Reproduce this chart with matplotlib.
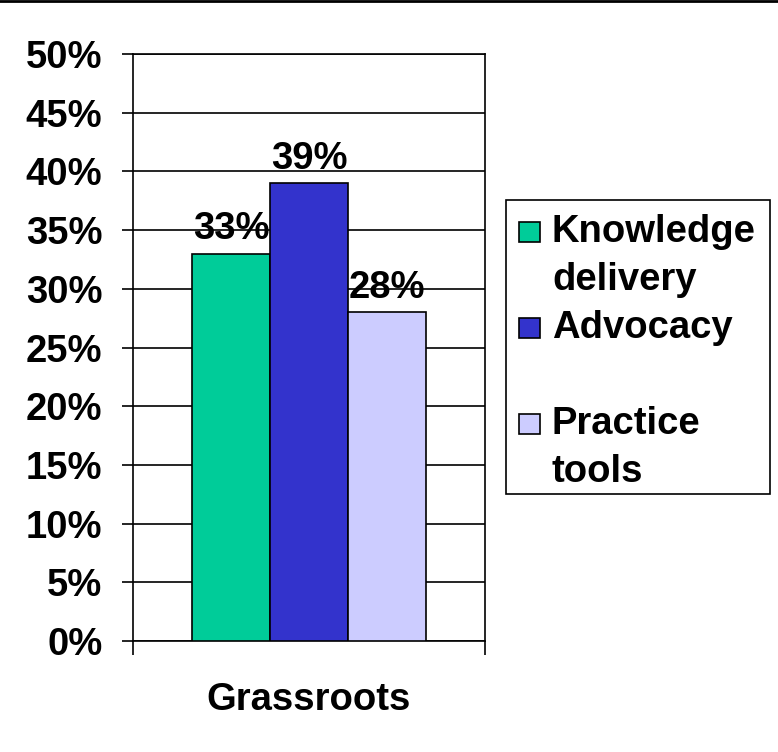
import matplotlib.pyplot as plt
from matplotlib.lines import Line2D
from matplotlib.patches import Rectangle
from matplotlib.ticker import PercentFormatter

plt.rcParams['font.family'] = ['Liberation Sans', 'DejaVu Sans']
plt.rcParams['font.weight'] = 'bold'

category = "Grassroots"
series = ["Knowledge\ndelivery", "Advocacy\n", "Practice\ntools"]
values = [33, 39, 28]
colors = ["#00CC99", "#3333CC", "#CCCCFF"]
yticks = list(range(0, 55, 5))

FS = 27.5
W, H = 778, 752

fig = plt.figure(figsize=(W / 100, H / 100), dpi=100)
ax = fig.add_axes([133 / W, 1 - 641 / H, 352 / W, 587 / H])

width = 78 / 352
offsets = [-width, 0, width]
for name, val, col, off in zip(series, values, colors, offsets):
    ax.bar(off, val, width=width, color=col, edgecolor="black",
           linewidth=1.2, label=name, zorder=3)
    ax.annotate(f"{val}%", (off, val), xytext=(0, 4.5), textcoords="offset points",
                ha="center", va="bottom", fontsize=FS, fontweight="bold", zorder=4)

ax.set_xlim(-0.5, 0.5)
ax.set_ylim(0, 50)
ax.set_yticks(yticks)
ax.yaxis.set_major_formatter(PercentFormatter(decimals=0))
ax.grid(axis="y", color="black", linewidth=1.2, zorder=0)
ax.tick_params(axis="y", labelsize=FS, length=8, width=1.2, direction="out", pad=14)
ax.set_xticks([-0.5, 0.5])
ax.set_xticklabels(["", ""])
ax.tick_params(axis="x", length=10, width=1.2, direction="out")
ax.set_xlabel(category, fontsize=FS, fontweight="bold", labelpad=16)
for s in ax.spines.values():
    s.set_linewidth(1.2)

# legend drawn by hand so the swatch sits on the first line of each label
def fx(px):
    return px / W

def fy(py):
    return 1 - py / H

fig.add_artist(Rectangle((fx(506), fy(494)), fx(770) - fx(506), fy(200) - fy(494),
                         transform=fig.transFigure, facecolor="white",
                         edgecolor="black", linewidth=1.2))
row0, step = 232, 48
row = 0
for name, col in zip(series, colors):
    lines = name.split("\n")
    y = row0 + row * step
    fig.add_artist(Rectangle((fx(519), fy(y + 10)), fx(21), 20 / H,
                             transform=fig.transFigure, facecolor=col,
                             edgecolor="black", linewidth=1.2))
    for k, ln in enumerate(lines):
        if ln:
            fig.text(fx(552), fy(y + k * step), ln, fontsize=FS, fontweight="bold",
                     ha="left", va="center")
    row += len(lines)

fig.add_artist(Line2D([0, 1], [1 - 1 / H, 1 - 1 / H], color="black",
                      linewidth=2, transform=fig.transFigure))

fig.savefig("out.png", dpi=100)
